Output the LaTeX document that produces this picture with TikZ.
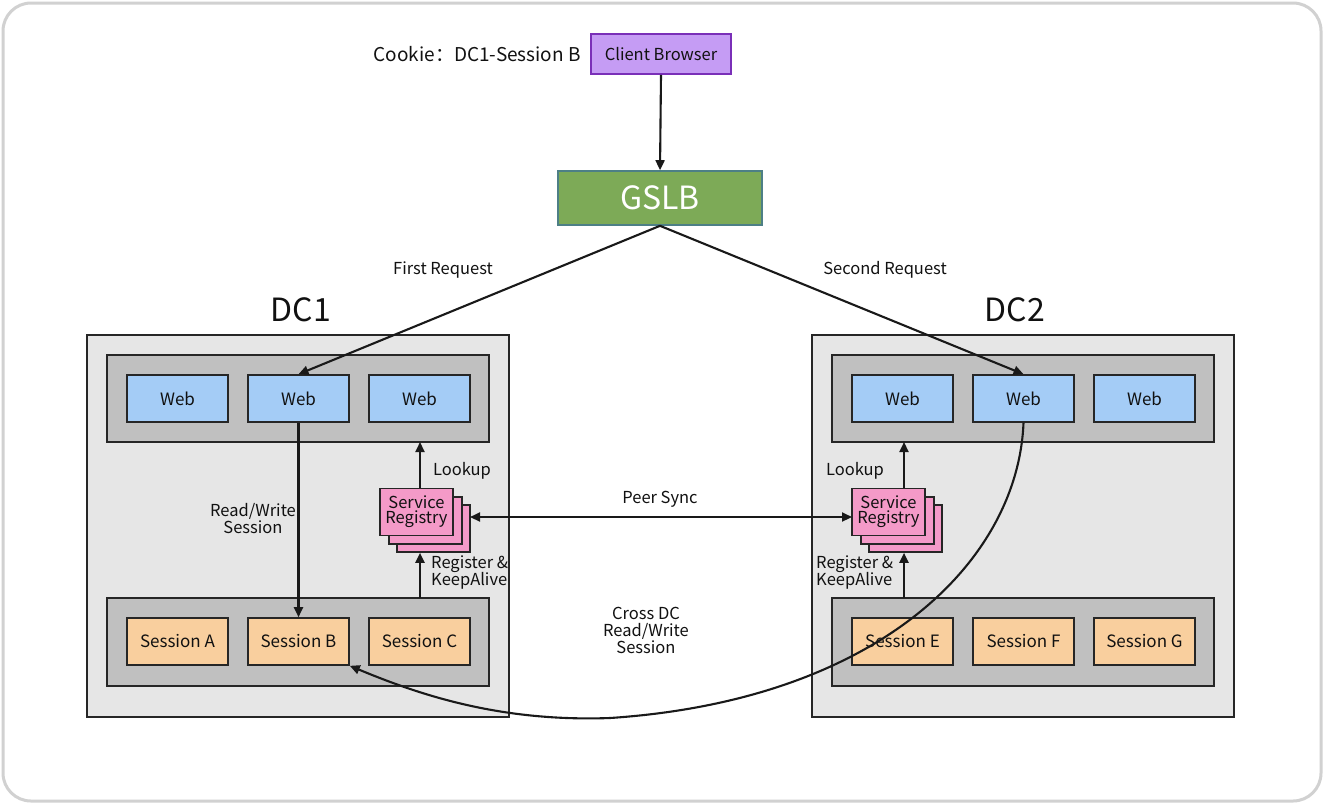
\documentclass[tikz,border=0pt]{standalone}
\usepackage{fontspec}
\setmainfont{Noto Sans CJK SC}
\usetikzlibrary{arrows.meta}
\definecolor{txt}{HTML}{111111}
\definecolor{dcfill}{HTML}{E6E6E6}
\definecolor{rowfill}{HTML}{C0C0C0}
\definecolor{webfill}{HTML}{A4CCF6}
\definecolor{sesfill}{HTML}{F9CF9E}
\definecolor{regfill}{HTML}{F49AC8}
\definecolor{cbfill}{HTML}{C59CF4}
\definecolor{cbdraw}{HTML}{7A2FB8}
\definecolor{gslbfill}{HTML}{7DAA57}
\definecolor{gslbdraw}{HTML}{4D7F86}
\tikzset{
  x=1pt,y=-1pt,
  every node/.style={text=txt,inner sep=0pt},
  box/.style={draw=black!85,line width=1.6pt},
  webbox/.style={box,fill=webfill,minimum width=101pt,minimum height=47pt,font=\fontsize{17}{19}\selectfont},
  sesbox/.style={box,fill=sesfill,minimum width=101pt,minimum height=47pt,font=\fontsize{17}{19}\selectfont},
  regbox/.style={box,fill=regfill,minimum width=73pt,minimum height=47pt,font=\fontsize{16.5}{18}\selectfont,align=center},
  lbl/.style={font=\fontsize{16.5}{19}\selectfont,align=center},
  conn/.style={line width=2.1pt,draw=black!90,-{Triangle[length=10pt,width=9pt]}},
}
\begin{document}
\begin{tikzpicture}
\useasboundingbox (0,0) rectangle (1324,804);
\fill[white] (0,0) rectangle (1324,804);
\draw[draw=black!18,line width=3pt,rounded corners=28pt] (3,3) rectangle (1321,801);

% client and GSLB
\node[draw=cbdraw,line width=1.6pt,fill=cbfill,minimum width=140pt,minimum height=40pt,font=\fontsize{16.5}{18}\selectfont] (cb) at (661,54) {Client Browser};
\node[anchor=east,font=\fontsize{19}{21}\selectfont] (cookie) at (581,54) {Cookie：DC1-Session B};
\node[draw=gslbdraw,line width=1.6pt,fill=gslbfill,minimum width=204pt,minimum height=54pt,text=white,font=\fontsize{32}{34}\selectfont] (gslb) at (660,198) {GSLB};

% DC labels
\node[font=\fontsize{32}{34}\selectfont] (dc1l) at (301,310) {DC1};
\node[font=\fontsize{32}{34}\selectfont] (dc2l) at (1015,310) {DC2};

% DC boxes
\draw[box,fill=dcfill] (87,335) rectangle (509,717);
\draw[box,fill=dcfill] (812,335) rectangle (1234,717);
\draw[box,fill=rowfill] (107,355) rectangle (489,442);
\draw[box,fill=rowfill] (107,598) rectangle (489,686);
\draw[box,fill=rowfill] (832,355) rectangle (1214,442);
\draw[box,fill=rowfill] (832,598) rectangle (1214,686);
\coordinate (r1top) at (420,442);
\coordinate (r1bot) at (420,598);
\coordinate (r2top) at (904,442);
\coordinate (r2bot) at (904,598);

% DC1 nodes
\node[webbox] (w11) at (177.5,398.5) {Web};
\node[webbox] (w12) at (298.5,398.5) {Web};
\node[webbox] (w13) at (419.5,398.5) {Web};
\node[sesbox] (sa) at (177.5,641.5) {Session A};
\node[sesbox] (sb) at (298.5,641.5) {Session B};
\node[sesbox] (sc) at (419.5,641.5) {Session C};

% DC2 nodes
\node[webbox] (w21) at (902.5,398.5) {Web};
\node[webbox] (w22) at (1023.5,398.5) {Web};
\node[webbox] (w23) at (1144.5,398.5) {Web};
\node[sesbox] (se) at (902.5,641.5) {Session E};
\node[sesbox] (sf) at (1023.5,641.5) {Session F};
\node[sesbox] (sg) at (1144.5,641.5) {Session G};

% registries
\node[regbox] (reg1c) at (433.5,528.5) {};
\node[regbox] (reg1b) at (425.5,520.5) {};
\node[regbox] (reg1) at (416.5,512) {Service\\[-3pt]Registry};
\node[regbox] (reg2c) at (905.5,528.5) {};
\node[regbox] (reg2b) at (897.5,520.5) {};
\node[regbox] (reg2) at (888.5,512) {Service\\[-3pt]Registry};
\coordinate (ps1) at (470,517);
\coordinate (ps2) at (852,517);

% connectors
\draw[conn] (cb.south) -- (gslb.north);
\draw[conn] (gslb.south) -- (w12.north);
\draw[conn] (gslb.south) -- (w22.north);
\node[lbl] (fr) at (443,270) {First Request};
\node[lbl] (sr) at (885,270) {Second Request};

\draw[conn] (w12.south) -- (sb.north);
\node[lbl] (rw) at (253,519) {Read/Write\\[-2pt]Session};

\draw[conn] (reg1.north -| r1top) -- (r1top);
\draw[conn] (r1bot) -- (reg1c.south -| r1bot);
\node[lbl] (lk1) at (462,471) {Lookup};
\node[lbl,align=left,anchor=west] (ka1) at (431,572) {Register \&\\[-2pt]KeepAlive};

\draw[conn] (reg2.north -| r2top) -- (r2top);
\draw[conn] (r2bot) -- (reg2c.south -| r2bot);
\node[lbl] (lk2) at (855,471) {Lookup};
\node[lbl,align=left,anchor=west] (ka2) at (816,572) {Register \&\\[-2pt]KeepAlive};

\draw[conn,{Triangle[length=10pt,width=9pt]}-{Triangle[length=10pt,width=9pt]}] (ps1) -- (ps2);
\node[lbl] (ps) at (660,499) {Peer Sync};

\draw[conn] (w22.south) .. controls (1018,560) and (880,700) .. (610,718) .. controls (500,722) and (420,695) .. (sb.south east);
\node[lbl] (cd) at (646,630) {Cross DC\\[-2pt]Read/Write\\[-2pt]Session};
\end{tikzpicture}
\end{document}
